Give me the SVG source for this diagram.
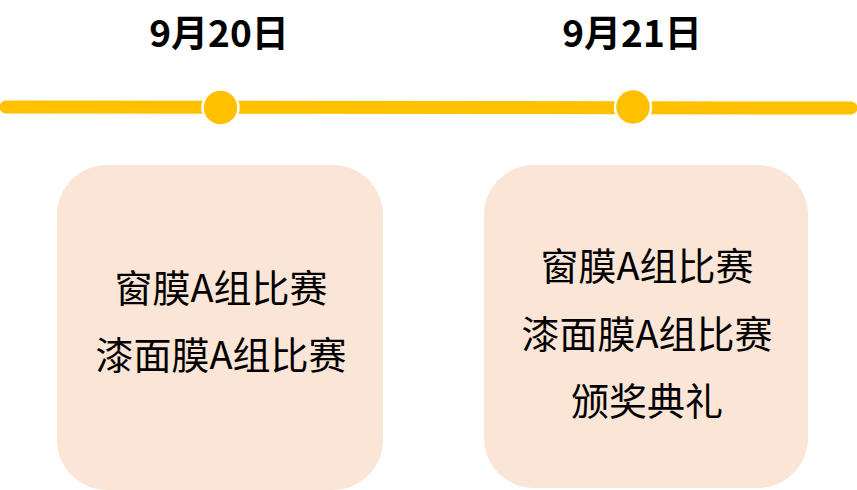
<svg xmlns="http://www.w3.org/2000/svg" width="857" height="490" viewBox="0 0 857 490">
<style>
.title{font-family:"Noto Sans CJK SC","Liberation Sans",sans-serif;font-weight:bold;font-size:37px;fill:#000;text-anchor:middle}
.body{font-family:"Noto Sans CJK SC","Liberation Sans",sans-serif;font-size:38px;fill:#000;text-anchor:middle}
.box{fill:#FBE5D6}
.dot{fill:#FFC000;stroke:#fff;stroke-width:2.5}
</style>
<rect width="857" height="490" fill="#fff"/>
<g id="connectors">
<line x1="6" y1="107" x2="851" y2="108" stroke="#FFC000" stroke-width="13" stroke-linecap="round"/>
</g>
<g id="date1">
<text class="title" x="219" y="47">9月20日</text>
<circle class="dot" cx="220.5" cy="107.5" r="18"/>
</g>
<g id="date2">
<text class="title" x="632" y="47">9月21日</text>
<circle class="dot" cx="633" cy="107" r="18"/>
</g>
<g id="box1">
<rect class="box" x="57" y="165" width="326" height="325" rx="50"/>
<text class="body" x="221" y="302">窗膜A组比赛</text>
<text class="body" x="221" y="369">漆面膜A组比赛</text>
</g>
<g id="box2">
<rect class="box" x="484" y="165" width="324" height="323" rx="50"/>
<text class="body" x="647" y="280">窗膜A组比赛</text>
<text class="body" x="647" y="348">漆面膜A组比赛</text>
<text class="body" x="647" y="415">颁奖典礼</text>
</g>
</svg>
